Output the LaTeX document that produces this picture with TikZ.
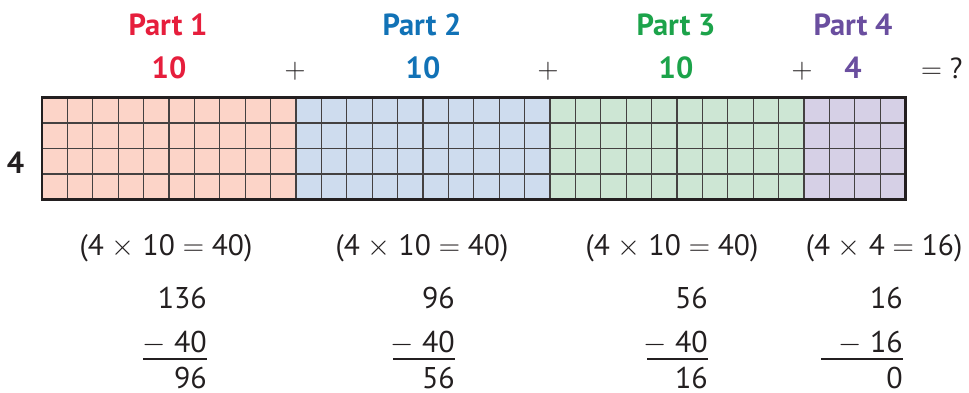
\RequirePackage{fix-cm}
\documentclass[tikz,border=0pt]{standalone}
\usepackage{fontspec}
\setmainfont{PT Sans}
\definecolor{ink}{HTML}{231F20}
\definecolor{redT}{HTML}{E61E3C}
\definecolor{blueT}{HTML}{1172B6}
\definecolor{greenT}{HTML}{1CA34A}
\definecolor{purpleT}{HTML}{6A4E9F}
\definecolor{redF}{HTML}{FCD4C8}
\definecolor{blueF}{HTML}{CEDCEE}
\definecolor{greenF}{HTML}{CDE6D4}
\definecolor{purpleF}{HTML}{D6D0E6}
\newcommand{\tms}{\(\times\)}
\newcommand{\eqs}{\(=\)}
\newcommand{\mns}{\(-\)}
\tikzset{
  title/.style={font=\fontsize{30.5}{32}\selectfont\bfseries, anchor=base, inner sep=0pt},
  num/.style={font=\fontsize{30.5}{32}\selectfont\bfseries, anchor=base, inner sep=0pt},
  op/.style={font=\fontsize{29}{32}\selectfont, text=ink, anchor=base, inner sep=0pt},
  eqn/.style={font=\fontsize{29.5}{32}\selectfont, text=ink, anchor=base, inner sep=0pt},
  calc/.style={font=\fontsize{30}{32}\selectfont, text=ink, anchor=base east, inner sep=0pt},
  gridline/.style={draw=ink!85, line width=1.3pt},
  outer/.style={draw=ink, line width=2.6pt},
  rule/.style={draw=ink, line width=2.8pt}
}
\begin{document}
\begin{tikzpicture}[x=1pt,y=-1pt]
\useasboundingbox (0,0) rectangle (969,393);
% fills
\fill[redF] (42,97.5) rectangle (296,199.3);
\fill[blueF] (296,97.5) rectangle (550,199.3);
\fill[greenF] (550,97.5) rectangle (804,199.3);
\fill[purpleF] (804,97.5) rectangle (905.6,199.3);
% grid
\foreach \i in {1,...,33} \draw[gridline] ({42+\i*25.4},97.5) -- ({42+\i*25.4},199.3);
\foreach \j in {1,2,3} \draw[gridline] (42,{97.5+\j*25.45}) -- (905.6,{97.5+\j*25.45});
\draw[outer] (42,97.5) rectangle (905.6,199.3);
% titles
\node[title, text=redT] (p1) at (168,36) {Part 1};
\node[title, text=blueT] (p2) at (422,36) {Part 2};
\node[title, text=greenT] (p3) at (676,36) {Part 3};
\node[title, text=purpleT] (p4) at (853,36) {Part 4};
% numbers
\node[num, text=redT] (n1) at (169,79) {10};
\node[num, text=blueT] (n2) at (423,79) {10};
\node[num, text=greenT] (n3) at (676,79) {10};
\node[num, text=purpleT] (n4) at (853,79) {4};
\node[op] (plus1) at (295,79) {\(+\)};
\node[op] (plus2) at (548,79) {\(+\)};
\node[op] (plus3) at (802,79) {\(+\)};
\node[op, anchor=base west] (eq) at (921,79) {\eqs{} ?};
% side label
\node[num, text=ink] (side) at (15.5,173) {4};
% equations
\node[eqn] (e1) at (166,255) {(4 \tms{} 10 \eqs{} 40)};
\node[eqn] (e2) at (422,255) {(4 \tms{} 10 \eqs{} 40)};
\node[eqn] (e3) at (672,255) {(4 \tms{} 10 \eqs{} 40)};
\node[eqn] (e4) at (884,255) {(4 \tms{} 4 \eqs{} 16)};
% subtractions
\node[calc] (a1) at (207,308) {136};
\node[calc] (b1) at (207,352) {\mns{} 40};
\node[calc] (c1) at (207,388.5) {96};
\node[calc] (a2) at (455,308) {96};
\node[calc] (b2) at (455,352) {\mns{} 40};
\node[calc] (c2) at (455,388.5) {56};
\node[calc] (a3) at (708,308) {56};
\node[calc] (b3) at (708,352) {\mns{} 40};
\node[calc] (c3) at (708,388.5) {16};
\node[calc] (a4) at (903,308) {16};
\node[calc] (b4) at (903,352) {\mns{} 16};
\node[calc] (c4) at (903,388.5) {0};
\coordinate (r1a) at (143,359); \coordinate (r1b) at (207,359);
\coordinate (r2a) at (393,359); \coordinate (r2b) at (455,359);
\coordinate (r3a) at (647,359); \coordinate (r3b) at (708,359);
\coordinate (r4a) at (821,359); \coordinate (r4b) at (903,359);
\draw[rule] (r1a) -- (r1b);
\draw[rule] (r2a) -- (r2b);
\draw[rule] (r3a) -- (r3b);
\draw[rule] (r4a) -- (r4b);
\end{tikzpicture}
\end{document}
